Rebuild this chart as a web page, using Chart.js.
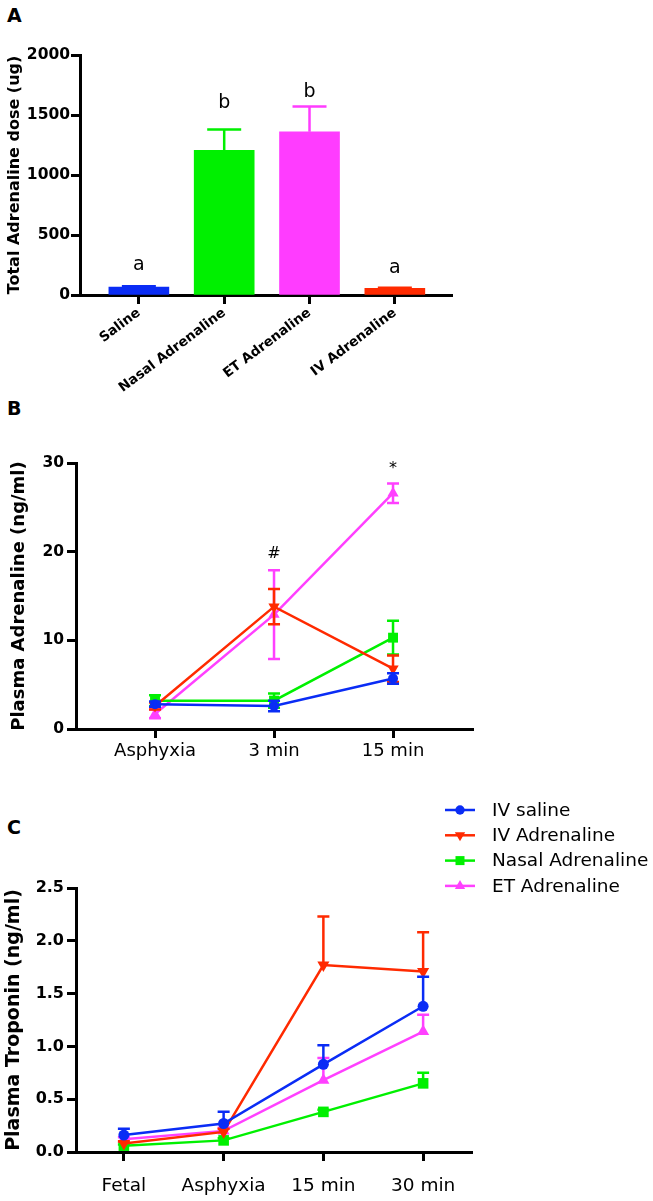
<!DOCTYPE html>
<html>
<head>
<meta charset="utf-8">
<script src="https://cdn.jsdelivr.net/npm/chart.js@4.4.0/dist/chart.umd.min.js"></script>
<style>
    body { margin: 0; background: #fff; width: 653px; height: 1201px; position: relative; overflow: hidden; }
    canvas { position: absolute; left: 0; }
    .panel { position: absolute; left: 7px; font: bold 19px 'DejaVu Sans', sans-serif; color: #000; }
</style>
</head>
<body>
<div class="panel" style="top:4px">A</div>
<div class="panel" style="top:397px">B</div>
<div class="panel" style="top:816px">C</div>
<canvas id="chartA" width="470" height="400" style="top:0"></canvas>
<canvas id="chartB" width="490" height="370" style="top:400px"></canvas>
<canvas id="chartC" width="653" height="421" style="top:780px"></canvas>
<script>
// panel A - total dose
const groupsA = ['Saline', 'Nasal Adrenaline', 'ET Adrenaline', 'IV Adrenaline'];
const doseA = [65, 1205, 1360, 55];
const doseErrA = [8, 175, 210, 6];
const lettersA = ['a', 'b', 'b', 'a'];
const letterPosA = [250, 1600, 1690, 225];
const barColorsA = ['#0a2cf5', '#00f000', '#ff3cff', '#ff2a00'];
const ticksA = [0, 500, 1000, 1500, 2000];

// panel B - plasma adrenaline
const timesB = ['Asphyxia', '3 min', '15 min'];
const salineB = [2.8, 2.6, 5.7];
const salineErrB = [0.3, 0.6, 0.6];
const ivB = [2.6, 13.8, 6.8];
const ivErrB = [0.4, 2.0, 1.5];
const nasalB = [3.2, 3.2, 10.3];
const nasalErrB = [0.6, 0.8, 1.9];
const etB = [1.7, 12.9, 26.6];
const etErrB = [0.5, 5.0, 1.1];
const marksB = ['', '#', '*'];
const markPosB = [null, 19.8, 29.3];

// panel C - plasma troponin
const timesC = ['Fetal', 'Asphyxia', '15 min', '30 min'];
const salineC = [0.16, 0.27, 0.83, 1.38];
const salineErrC = [0.06, 0.11, 0.18, 0.28];
const ivC = [0.08, 0.19, 1.77, 1.71];
const ivErrC = [0.02, 0.03, 0.46, 0.37];
const nasalC = [0.06, 0.11, 0.38, 0.65];
const nasalErrC = [0.01, 0.02, 0.02, 0.10];
const etC = [0.12, 0.20, 0.68, 1.14];
const etErrC = [0.02, 0.03, 0.21, 0.16];

const seriesNames = ['IV saline', 'IV Adrenaline', 'Nasal Adrenaline', 'ET Adrenaline'];
const BLUE = '#0a2cf5', RED = '#ff2a00', GREEN = '#00f000', PINK = '#ff40ff';
const FONT = "'DejaVu Sans', sans-serif";

const toPoints = (vals) => vals.map((v, i) => ({ x: i, y: v }));

// error bars drawn with the chart's own scales
const errorBars = {
    id: 'errorBars',
    afterDatasetDraw(chart, args, opts) {
        const ds = chart.data.datasets[args.index];
        if (!ds.errors) return;
        const ctx = chart.ctx;
        const yScale = chart.scales.y;
        ctx.save();
        ctx.lineWidth = opts.width;
        args.meta.data.forEach((el, i) => {
            const v = ds.data[i].y;
            const e = ds.errors[i];
            const x = el.x;
            const yTop = yScale.getPixelForValue(v + e);
            const yBot = opts.both ? yScale.getPixelForValue(v - e) : yScale.getPixelForValue(v);
            ctx.strokeStyle = Array.isArray(ds.backgroundColor) ? ds.backgroundColor[i] : ds.borderColor;
            ctx.beginPath();
            ctx.moveTo(x, yTop);
            ctx.lineTo(x, yBot);
            ctx.moveTo(x - opts.cap, yTop);
            ctx.lineTo(x + opts.cap, yTop);
            if (opts.both) {
                ctx.moveTo(x - opts.cap, yBot);
                ctx.lineTo(x + opts.cap, yBot);
            }
            ctx.stroke();
        });
        ctx.restore();
    }
};

// small text marks (letters, #, *)
const textMarks = {
    id: 'textMarks',
    afterDraw(chart, args, opts) {
        const ctx = chart.ctx;
        ctx.save();
        ctx.fillStyle = '#000';
        ctx.font = opts.font;
        ctx.textAlign = 'center';
        ctx.textBaseline = 'middle';
        opts.texts.forEach((t, i) => {
            if (!t) return;
            ctx.fillText(t, chart.scales.x.getPixelForValue(i), chart.scales.y.getPixelForValue(opts.pos[i]));
        });
        ctx.restore();
    }
};

// legend for panel C, sits above the plot to the right
const sideLegend = {
    id: 'sideLegend',
    afterDraw(chart) {
        const ctx = chart.ctx;
        const x0 = chart.chartArea.right - 27;
        const y0 = chart.chartArea.top - 78;
        ctx.save();
        chart.data.datasets.forEach((ds, i) => {
            const y = y0 + i * 25.3;
            ctx.strokeStyle = ds.borderColor;
            ctx.lineWidth = 2.5;
            ctx.beginPath();
            ctx.moveTo(x0, y);
            ctx.lineTo(x0 + 30, y);
            ctx.stroke();
            ctx.fillStyle = ds.borderColor;
            Chart.helpers.drawPoint(ctx, {
                pointStyle: ds.pointStyle,
                radius: ds.pointRadius * 0.85,
                rotation: ds.pointRotation || 0,
                borderWidth: 0
            }, x0 + 15, y);
            ctx.fillStyle = '#000';
            ctx.font = '18.5px ' + FONT;
            ctx.textBaseline = 'middle';
            ctx.fillText(ds.label, x0 + 47, y + 1);
        });
        ctx.restore();
    }
};

function axisStyle(extra) {
    return Object.assign({
        border: { display: true, color: '#000', width: 3 },
        grid: { display: true, drawOnChartArea: false, drawTicks: true, tickLength: 9, tickWidth: 3, tickColor: '#000', offset: false }
    }, extra);
}

function lineSet(label, vals, errs, color, style, radius, rotation) {
    return {
        label: label,
        data: toPoints(vals),
        errors: errs,
        borderColor: color,
        backgroundColor: color,
        borderWidth: 2.5,
        pointStyle: style,
        pointRadius: radius,
        pointRotation: rotation || 0,
        pointBorderWidth: 0,
        pointBackgroundColor: color,
        tension: 0
    };
}

// ---- Panel A
new Chart(document.getElementById('chartA'), {
    type: 'bar',
    data: {
        datasets: [{
            data: toPoints(doseA),
            errors: doseErrA,
            backgroundColor: barColorsA,
            borderWidth: 0,
            barThickness: 60
        }]
    },
    options: {
        responsive: false,
        animation: false,
        layout: { padding: { top: 55, right: 18, left: 0, bottom: 0 } },
        plugins: {
            legend: { display: false },
            tooltip: { enabled: false },
            errorBars: { width: 2.5, cap: 17, both: false },
            textMarks: { texts: lettersA, pos: letterPosA, font: '19px ' + FONT }
        },
        scales: {
            x: axisStyle({
                type: 'linear',
                min: -0.69,
                max: 3.67,
                offset: false,
                afterFit: (s) => { s.height = 105; },
                afterBuildTicks: (s) => { s.ticks = groupsA.map((g, i) => ({ value: i })); },
                ticks: {
                    autoSkip: false,
                    minRotation: 37,
                    maxRotation: 37,
                    padding: 1,
                    color: '#000',
                    font: { family: FONT, size: 13.5, weight: 'bold' },
                    callback: (v, i) => groupsA[i]
                }
            }),
            y: axisStyle({
                min: 0,
                max: 2000,
                afterFit: (s) => { s.width = 80; },
                afterBuildTicks: (s) => { s.ticks = ticksA.map(v => ({ value: v })); },
                ticks: { padding: 1, color: '#000', font: { family: FONT, size: 15.5, weight: 'bold' }, callback: (v) => String(v) },
                title: { display: true, text: 'Total Adrenaline dose (ug)', color: '#000', padding: { top: 5 }, font: { family: FONT, size: 16, weight: 'bold' } }
            })
        }
    },
    plugins: [errorBars, textMarks]
});

// ---- Panel B
new Chart(document.getElementById('chartB'), {
    type: 'line',
    data: {
        datasets: [
            lineSet(seriesNames[0], salineB, salineErrB, BLUE, 'circle', 5),
            lineSet(seriesNames[1], ivB, ivErrB, RED, 'triangle', 6.5, 180),
            lineSet(seriesNames[2], nasalB, nasalErrB, GREEN, 'rect', 7),
            lineSet(seriesNames[3], etB, etErrB, PINK, 'triangle', 6.5)
        ]
    },
    options: {
        responsive: false,
        animation: false,
        layout: { padding: { top: 63, right: 17, left: 0, bottom: 0 } },
        plugins: {
            legend: { display: false },
            tooltip: { enabled: false },
            errorBars: { width: 2.5, cap: 6, both: true },
            textMarks: { texts: marksB, pos: markPosB, font: '16px ' + FONT }
        },
        scales: {
            x: axisStyle({
                type: 'linear',
                min: -0.664,
                max: 2.672,
                afterFit: (s) => { s.height = 41; },
                afterBuildTicks: (s) => { s.ticks = timesB.map((t, i) => ({ value: i })); },
                ticks: { autoSkip: false, maxRotation: 0, padding: 3, color: '#000', font: { family: FONT, size: 18 }, callback: (v, i) => timesB[i] }
            }),
            y: axisStyle({
                min: 0,
                max: 30,
                afterFit: (s) => { s.width = 76; },
                ticks: { stepSize: 10, padding: 3, color: '#000', font: { family: FONT, size: 15.5, weight: 'bold' } },
                title: { display: true, text: 'Plasma Adrenaline (ng/ml)', color: '#000', padding: { top: 9 }, font: { family: FONT, size: 18, weight: 'bold' } }
            })
        }
    },
    plugins: [errorBars, textMarks]
});

// ---- Panel C
new Chart(document.getElementById('chartC'), {
    type: 'line',
    data: {
        datasets: [
            lineSet(seriesNames[0], salineC, salineErrC, BLUE, 'circle', 5.5),
            lineSet(seriesNames[1], ivC, ivErrC, RED, 'triangle', 7, 180),
            lineSet(seriesNames[2], nasalC, nasalErrC, GREEN, 'rect', 7.5),
            lineSet(seriesNames[3], etC, etErrC, PINK, 'triangle', 7)
        ]
    },
    options: {
        responsive: false,
        animation: false,
        layout: { padding: { top: 108, right: 181, left: 0, bottom: 0 } },
        plugins: {
            legend: { display: false },
            tooltip: { enabled: false },
            errorBars: { width: 2.5, cap: 6, both: false }
        },
        scales: {
            x: axisStyle({
                type: 'linear',
                min: -0.48,
                max: 3.49,
                afterFit: (s) => { s.height = 49; },
                afterBuildTicks: (s) => { s.ticks = timesC.map((t, i) => ({ value: i })); },
                ticks: { autoSkip: false, maxRotation: 0, padding: 14, color: '#000', font: { family: FONT, size: 18.5 }, callback: (v, i) => timesC[i] }
            }),
            y: axisStyle({
                min: 0,
                max: 2.5,
                afterFit: (s) => { s.width = 76; },
                ticks: { stepSize: 0.5, padding: 3, color: '#000', font: { family: FONT, size: 16, weight: 'bold' }, callback: (v) => v.toFixed(1) },
                title: { display: true, text: 'Plasma Troponin (ng/ml)', color: '#000', padding: { top: 3 }, font: { family: FONT, size: 19, weight: 'bold' } }
            })
        }
    },
    plugins: [errorBars, sideLegend]
});
</script>
</body>
</html>
